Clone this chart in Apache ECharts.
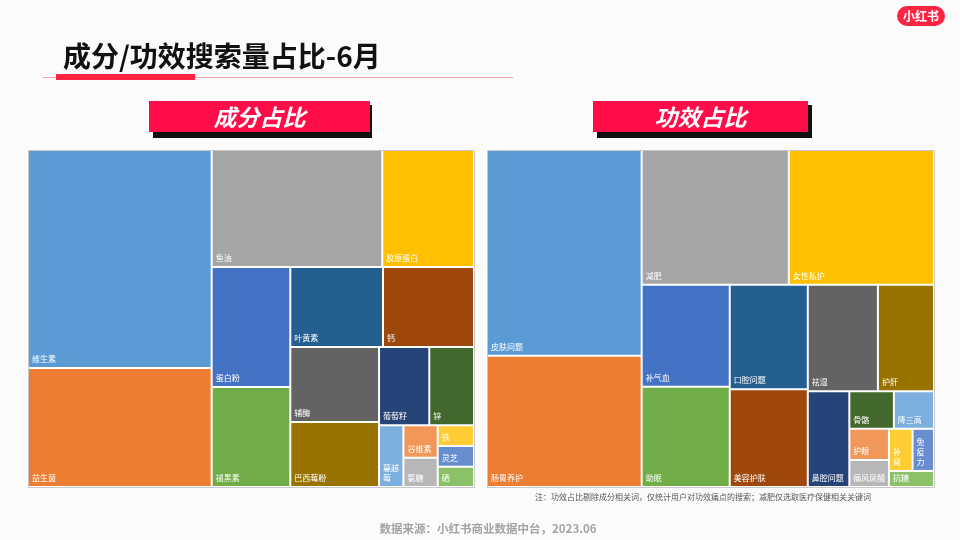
<!DOCTYPE html>
<html>
<head>
<meta charset="utf-8">
<script src="https://cdn.jsdelivr.net/npm/echarts@6/dist/echarts.min.js"></script>
<style>
html,body{margin:0;padding:0;background:#fbfbfb;}
#main{width:960px;height:540px;}
</style>
</head>
<body>
<div id="main"></div>
<script>
// ---- data (share of search volume, %) ----
const ingredientNames = ['维生素','益生菌','鱼油','胶原蛋白','蛋白粉','褪黑素','叶黄素','钙','辅酶','巴西莓粉','葡萄籽','锌','蔓越莓','谷维素','氨糖','铁','灵芝','硒'];
const ingredientShare = [26.64,14.54,13.28,7.14,6.28,5.23,4.93,4.84,4.43,3.84,2.62,2.33,1.00,0.74,0.67,0.50,0.50,0.49];

const efficacyNames = ['皮肤问题','肠胃养护','减肥','女性私护','补气血','助眠','口腔问题','美容护肤','祛湿','护肝','鼻腔问题','骨骼','降三高','护眼','痛风尿酸','补肾','免疫力','抗糖'];
const efficacyShare = [21.13,13.47,13.16,12.98,5.97,5.86,5.42,5.06,4.96,3.97,2.64,1.11,1.00,0.82,0.71,0.66,0.60,0.48];

// colour by rank (Office palette)
const palette = ['#5B9BD5','#ED7D31','#A5A5A5','#FFC000','#4472C4','#70AD47','#255E91','#9E480E','#636363','#997300','#264478','#43682B','#7CAFDD','#F1975A','#B7B7B7','#FFCD33','#698ED0','#8CC168'];

// grouping of the smallest tiles (indices into the arrays above)
const ingredientNesting = [0,1,2,3,4,5,6,7,8,9,10,11,[12,[13,14,15,16,17]]];
const efficacyNesting   = [0,1,2,3,4,5,6,7,8,9,[10,[11,12,13,14,15,16,17]]];

const labelBreaks = {'蔓越莓':'蔓越\n莓','补肾':'补\n肾','免疫力':'免\n疫\n力'};

const titleText = '成分/功效搜索量占比-6月';
const leftHeader = '成分占比';
const rightHeader = '功效占比';
const noteText = '注：功效占比剔除成分相关词，仅统计用户对功效痛点的搜索；减肥仅选取医疗保健相关关键词';
const sourceText = '数据来源：小红书商业数据中台，2023.06';
const logoText = '小红书';

// ---- build ----
function build(names, values, nest) {
  return nest.map(function (n) {
    if (Array.isArray(n)) {
      return { name: '', itemStyle: { borderWidth: 0, gapWidth: 0 }, children: build(names, values, n) };
    }
    return { name: names[n], value: values[n], itemStyle: { color: palette[n], borderWidth: 1, borderColor: '#fff' } };
  });
}

const FONT = '"Noto Sans CJK SC", "Noto Sans", sans-serif';

function treemapSeries(box, data) {
  return Object.assign({
    type: 'treemap',
    sort: false,
    squareRatio: 1,
    roam: false,
    nodeClick: false,
    breadcrumb: { show: false },
    silent: true,
    itemStyle: { borderWidth: 0, gapWidth: 0, borderColor: '#fff' },
    upperLabel: { show: false },
    label: {
      show: true,
      position: 'insideBottomLeft',
      align: 'left',
      verticalAlign: 'bottom',
      color: '#fff',
      fontSize: 8,
      lineHeight: 10,
      fontFamily: FONT,
      padding: [0, 0, 3, 3],
      overflow: 'none',
      formatter: function (p) { return labelBreaks[p.name] || p.name; }
    },
    data: data
  }, box);
}

const chart = echarts.init(document.getElementById('main'), null, { renderer: 'canvas' });

chart.setOption({
  animation: false,
  backgroundColor: '#fbfbfb',
  series: [
    treemapSeries({ left: 28, top: 150, width: 446, height: 337 }, build(ingredientNames, ingredientShare, ingredientNesting)),
    treemapSeries({ left: 487, top: 150, width: 447, height: 337 }, build(efficacyNames, efficacyShare, efficacyNesting))
  ],
  graphic: [
    // title
    { type: 'rect', shape: { x: 43, y: 77, width: 470, height: 1 }, style: { fill: '#f4a3ad' } },
    { type: 'rect', shape: { x: 56, y: 74, width: 139, height: 6 }, style: { fill: '#ff2442' } },
    { type: 'text', x: 63, y: 56, style: { text: titleText, font: 'bold 28px ' + FONT, fill: '#111', verticalAlign: 'middle', align: 'left' } },
    // left header
    { type: 'rect', shape: { x: 153, y: 105, width: 219, height: 33 }, style: { fill: '#111' } },
    { type: 'rect', shape: { x: 149, y: 101, width: 221, height: 31 }, style: { fill: '#ff0d49' } },
    { type: 'text', x: 259.5, y: 117, style: { text: leftHeader, font: 'italic bold 23px ' + FONT, fill: '#fff', align: 'center', verticalAlign: 'middle' } },
    // right header
    { type: 'rect', shape: { x: 597, y: 105, width: 215, height: 33 }, style: { fill: '#111' } },
    { type: 'rect', shape: { x: 593, y: 101, width: 215, height: 31 }, style: { fill: '#ff0d49' } },
    { type: 'text', x: 700.5, y: 117, style: { text: rightHeader, font: 'italic bold 23px ' + FONT, fill: '#fff', align: 'center', verticalAlign: 'middle' } },
    // frames
    { type: 'rect', z: 100, shape: { x: 28.5, y: 150.5, width: 446, height: 337 }, style: { fill: 'none', stroke: '#c8c8c8', lineWidth: 1 } },
    { type: 'rect', z: 100, shape: { x: 487.5, y: 150.5, width: 447, height: 337 }, style: { fill: 'none', stroke: '#c8c8c8', lineWidth: 1 } },
    // note & source
    { type: 'text', x: 703, y: 497, style: { text: noteText, font: '8px ' + FONT, fill: '#555', align: 'center', verticalAlign: 'middle' } },
    { type: 'text', x: 488, y: 529, style: { text: sourceText, font: 'bold 11.5px ' + FONT, fill: '#a3a3a3', align: 'center', verticalAlign: 'middle' } },
    // logo
    { type: 'rect', shape: { x: 897, y: 6, width: 48, height: 20, r: 10 }, style: { fill: '#ff2442' } },
    { type: 'text', x: 921, y: 16, style: { text: logoText, font: 'bold 12px ' + FONT, fill: '#fff', align: 'center', verticalAlign: 'middle' } }
  ]
});
</script>
</body>
</html>
